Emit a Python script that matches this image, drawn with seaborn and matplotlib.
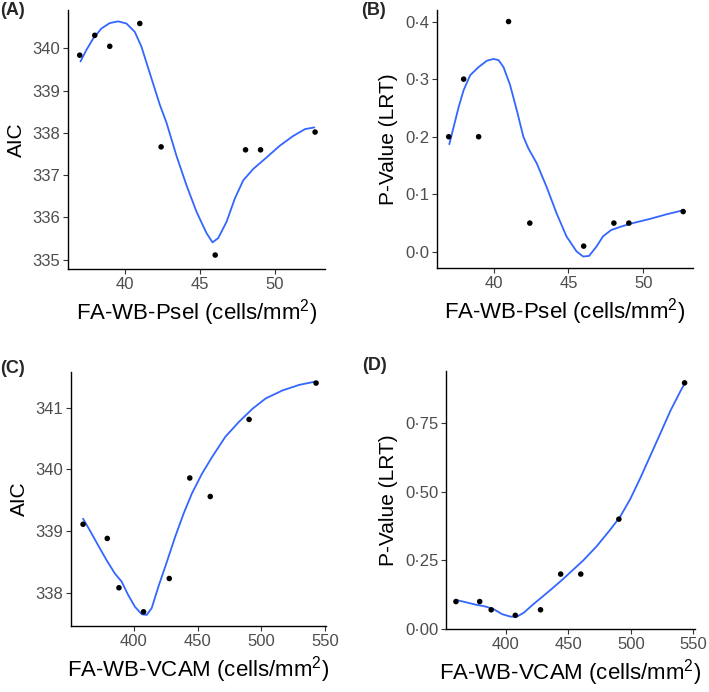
import pandas as pd
import seaborn as sns
import matplotlib.pyplot as plt
import matplotlib.ticker as mtick

# points
psel = [37.0, 38.0, 39.0, 41.0, 42.42, 46.02, 48.04, 49.04, 52.67]
psel_aic = [339.84, 340.31, 340.05, 340.59, 337.67, 335.11, 337.60, 337.60, 338.02]
psel_p = [0.20, 0.30, 0.20, 0.40, 0.05, 0.01, 0.05, 0.05, 0.07]

vcam = [360.0, 379.0, 388.2, 407.5, 427.7, 443.8, 459.9, 490.4, 543.0]
vcam_aic = [339.11, 338.88, 338.08, 337.69, 338.23, 339.86, 339.56, 340.81, 341.40]
vcam_p = [0.10, 0.10, 0.07, 0.05, 0.07, 0.20, 0.20, 0.40, 0.896]

# loess smooth lines
sm_a_x = [37.05, 37.44, 37.89, 38.44, 39.0, 39.56, 40.11, 40.67, 41.11, 41.67, 42.33, 42.78,
          43.44, 44.11, 44.78, 45.44, 45.84, 46.22, 46.78, 47.33, 47.89, 48.56, 49.44, 50.33,
          51.22, 52.0, 52.62]
sm_a_y = [339.69, 339.96, 340.23, 340.47, 340.60, 340.64, 340.59, 340.39, 340.04, 339.41,
          338.67, 338.24, 337.46, 336.76, 336.13, 335.63, 335.41, 335.51, 335.90, 336.45,
          336.88, 337.15, 337.42, 337.70, 337.93, 338.09, 338.13]

sm_b_x = [37.04, 37.33, 37.67, 38.0, 38.44, 39.0, 39.55, 39.99, 40.33, 40.66, 41.10, 41.55,
          41.99, 42.32, 42.88, 43.54, 44.21, 44.87, 45.54, 45.98, 46.38, 46.87, 47.31, 47.86,
          48.53, 49.31, 50.41, 51.52, 52.63]
sm_b_y = [0.187, 0.217, 0.252, 0.281, 0.307, 0.321, 0.332, 0.335, 0.333, 0.321, 0.290, 0.246,
          0.200, 0.180, 0.154, 0.113, 0.067, 0.027, 0.001, -0.008, -0.007, 0.009, 0.027, 0.038,
          0.044, 0.050, 0.057, 0.065, 0.072]

sm_c_x = [360.0, 365.3, 371.8, 378.4, 385.0, 390.3, 395.5, 400.8, 406.1, 410.0, 413.9, 419.2,
          424.5, 432.4, 438.9, 445.5, 453.4, 461.3, 471.8, 482.4, 492.9, 503.4, 516.6, 529.7,
          541.6]
sm_c_y = [339.20, 339.01, 338.77, 338.53, 338.31, 338.18, 337.96, 337.77, 337.65, 337.64,
          337.75, 338.10, 338.42, 338.91, 339.28, 339.61, 339.93, 340.20, 340.53, 340.77,
          340.98, 341.15, 341.28, 341.37, 341.42]

sm_d_x = [359.9, 367.4, 375.5, 383.6, 390.3, 397.0, 403.8, 409.2, 414.5, 421.3, 429.3, 437.4,
          445.5, 453.6, 461.7, 472.4, 483.2, 491.3, 499.4, 507.4, 515.5, 523.6, 531.7, 539.7,
          543.2]
sm_d_y = [0.106, 0.098, 0.089, 0.082, 0.072, 0.054, 0.045, 0.046, 0.060, 0.088, 0.118, 0.149,
          0.181, 0.215, 0.249, 0.300, 0.360, 0.408, 0.472, 0.548, 0.630, 0.712, 0.795, 0.866,
          0.895]

psel_label = "FA-WB-Psel (cells/mm$^{2}$)"
vcam_label = "FA-WB-VCAM (cells/mm$^{2}$)"

sns.set_style("ticks")
plt.rcParams['font.family'] = ['Liberation Sans', 'DejaVu Sans']
plt.rcParams['mathtext.fontset'] = 'custom'
plt.rcParams['mathtext.rm'] = 'Liberation Sans'

fig = plt.figure(figsize=(7.09, 6.92), dpi=100)

panels = [
    # tag, rect, x, y, smooth x, smooth y, xlabel, ylabel, xlim, ylim, yticks, ytick labels, tag pos
    ("(A)", [0.0959, 0.6113, 0.3625, 0.3743], psel, psel_aic, sm_a_x, sm_a_y, psel_label, "AIC",
     (36.22, 53.33), (334.78, 340.91), [335, 336, 337, 338, 339, 340],
     ["335", "336", "337", "338", "339", "340"], (0.0, 0.997)),
    ("(B)", [0.6164, 0.6127, 0.3611, 0.3728], psel, psel_p, sm_b_x, sm_b_y, psel_label,
     "P-Value (LRT)", (36.22, 53.33), (-0.028, 0.42), [0.0, 0.1, 0.2, 0.3, 0.4],
     ["0·0", "0·1", "0·2", "0·3", "0·4"], (0.509, 0.997)),
    ("(C)", [0.1001, 0.0954, 0.3597, 0.3671], vcam, vcam_aic, sm_c_x, sm_c_y, vcam_label, "AIC",
     (350.5, 550.8), (337.46, 341.58), [338, 339, 340, 341],
     ["338", "339", "340", "341"], (0.0, 0.480)),
    ("(D)", [0.629, 0.091, 0.3512, 0.3728], vcam, vcam_p, sm_d_x, sm_d_y, vcam_label,
     "P-Value (LRT)", (352.0, 551.3), (0.0, 0.939), [0.0, 0.25, 0.5, 0.75],
     ["0·00", "0·25", "0·50", "0·75"], (0.511, 0.484)),
]

for tag, rect, xs, ys, sx, sy, xl, yl, xlim, ylim, yt, ytl, tpos in panels:
    ax = fig.add_axes(rect)
    sm = pd.DataFrame({"x": sx, "y": sy})
    pts = pd.DataFrame({"x": xs, "y": ys})
    sns.lineplot(data=sm, x="x", y="y", sort=False, color="#3366FF", linewidth=1.3, ax=ax)
    sns.scatterplot(data=pts, x="x", y="y", color="black", s=16, edgecolor="none", ax=ax, zorder=3)
    ax.set_xlim(xlim)
    ax.set_ylim(ylim)
    ax.set_yticks(yt)
    ax.set_yticklabels(ytl)
    ax.xaxis.set_major_locator(mtick.MultipleLocator(50 if xlim[0] > 100 else 5))
    ax.set_xlabel(xl, fontsize=16, color="black", labelpad=4)
    ax.set_ylabel(yl, fontsize=15, color="black", labelpad=5)
    ax.tick_params(axis="both", length=3.5, width=0.8, color="#333333",
                   labelsize=12, labelcolor="#4D4D4D", pad=2)
    sns.despine(ax=ax)
    for s in ["left", "bottom"]:
        ax.spines[s].set_color("black")
        ax.spines[s].set_linewidth(1.0)
    fig.text(tpos[0], tpos[1], tag, fontsize=13, fontweight="bold", ha="left", va="top")

fig.savefig("out.png", dpi=100)
